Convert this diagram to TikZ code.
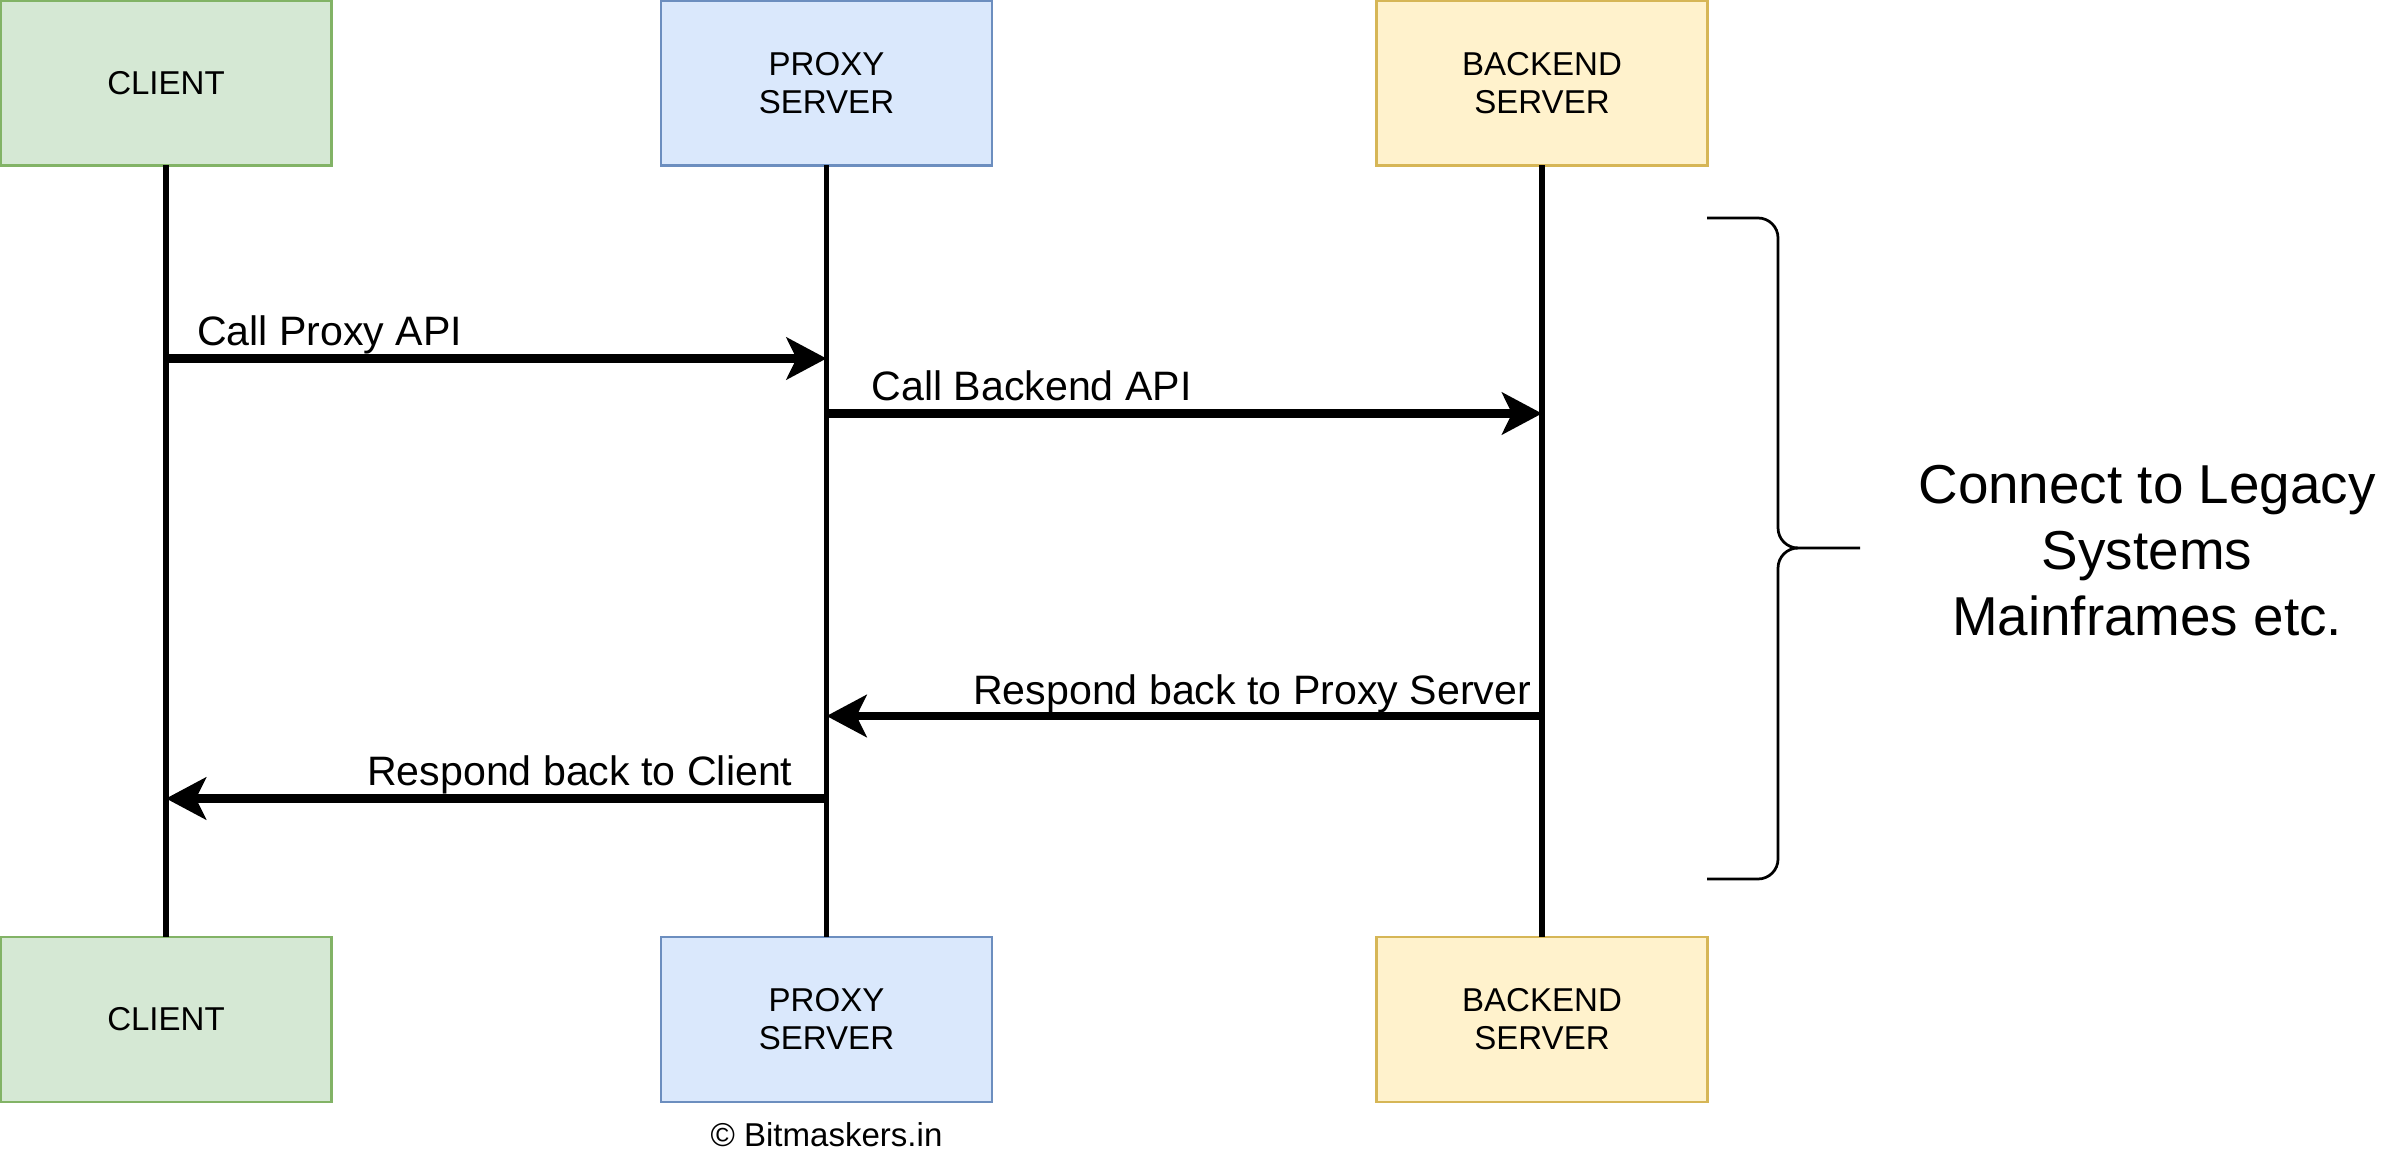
\documentclass[tikz,border=0pt]{standalone}
\usepackage{fontspec}
\setmainfont{Liberation Sans}
\usepackage{xcolor}
\usetikzlibrary{arrows.meta, positioning}
\definecolor{gfill}{HTML}{D5E8D4}
\definecolor{gline}{HTML}{82B366}
\definecolor{bfill}{HTML}{DAE8FC}
\definecolor{bline}{HTML}{6C8EBF}
\definecolor{yfill}{HTML}{FFF2CC}
\definecolor{yline}{HTML}{D6B656}
\newcommand{\boxfont}{\fontsize{9.4}{10.8}\selectfont}
\newcommand{\msgfont}{\fontsize{11.7}{14}\selectfont}
\newcommand{\notefont}{\fontsize{15.6}{18.76}\selectfont}

\begin{document}
\begin{tikzpicture}[node distance=1cm,
      b/.style={draw, line width=0.78pt, minimum width=3.31cm, minimum height=1.65cm,
        inner sep=0pt, outer sep=0pt, align=center, font=\boxfont},
      bg/.style={b, draw=gline, fill=gfill},
      bb/.style={b, draw=bline, fill=bfill},
      by/.style={b, draw=yline, fill=yfill},
      life/.style={line width=1.56pt},
      msg/.style={line width=2.34pt, -{Stealth[length=0.4cm, width=0.42cm, inset=0.1cm]}},
      lbl/.style={font=\msgfont, inner sep=0pt}]
    \useasboundingbox (0,0) rectangle (24,-11.61);
    \node[bg] (cl) at (1.66,-0.83) {CLIENT};
    \node[bb, right=3.295cm of cl] (px) {PROXY\\SERVER};
    \node[by, right=3.845cm of px] (be) {BACKEND\\SERVER};
    \node[bg, below=7.715cm of cl] (cl2) {CLIENT};
    \node[bb, below=7.715cm of px] (px2) {PROXY\\SERVER};
    \node[by, below=7.715cm of be] (be2) {BACKEND\\SERVER};
    \node[font=\boxfont, inner sep=0pt, below=0.2cm of px2] (copy) {© Bitmaskers.in};
    \draw[life] (cl) -- (cl2);
    \draw[life] (px) -- (px2);
    \draw[life] (be) -- (be2);
    \coordinate (m1a) at (cl |- 0,-3.585);
    \coordinate (m1b) at (px |- 0,-3.585);
    \coordinate (m2a) at (px |- 0,-4.135);
    \coordinate (m2b) at (be |- 0,-4.135);
    \coordinate (m3a) at (be |- 0,-7.16);
    \coordinate (m3b) at (px |- 0,-7.16);
    \coordinate (m4a) at (px |- 0,-7.985);
    \coordinate (m4b) at (cl |- 0,-7.985);
    \draw[msg] (m1a) -- node[lbl, pos=0, anchor=base west, xshift=0.27cm, yshift=0.13cm]{Call Proxy API} (m1b);
    \draw[msg] (m2a) -- node[lbl, pos=0, anchor=base west, xshift=0.41cm, yshift=0.13cm]{Call Backend API} (m2b);
    \draw[msg] (m3a) -- node[lbl, pos=0, anchor=base east, xshift=-0.07cm, yshift=0.12cm]{Respond back to Proxy Server} (m3b);
    \draw[msg] (m4a) -- node[lbl, pos=0, anchor=base east, xshift=-0.30cm, yshift=0.13cm]{Respond back to Client} (m4b);
    \draw[line width=0.78pt] (17.07,-2.18) -- (17.58,-2.18) arc[start angle=90, end angle=0, radius=0.2]
      -- (17.78,-5.28) arc[start angle=180, end angle=270, radius=0.2] -- (18.60,-5.48);
    \draw[line width=0.78pt] (17.07,-8.79) -- (17.58,-8.79) arc[start angle=-90, end angle=0, radius=0.2]
      -- (17.78,-5.68) arc[start angle=180, end angle=90, radius=0.2];
    \node[font=\notefont, align=center, inner sep=0pt] (note) at (21.47,-5.51) {Connect to Legacy\\Systems\\Mainframes etc.};
  \end{tikzpicture}
\end{document}
